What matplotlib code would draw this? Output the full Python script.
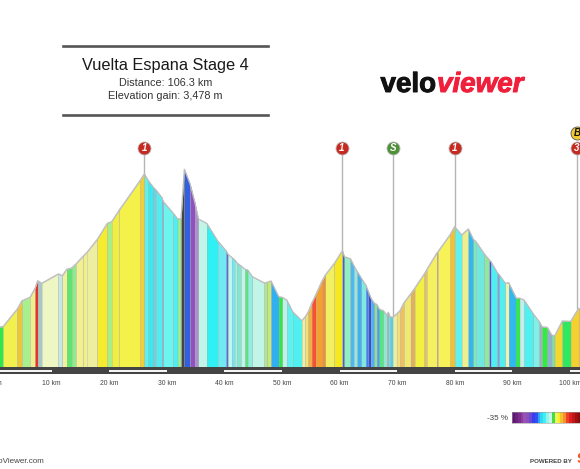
"""
Vuelta Espana Stage 4 elevation profile.
"""
import matplotlib
matplotlib.use("Agg")
import matplotlib.pyplot as plt
import matplotlib.patheffects as pe

plt.rcParams["font.family"] = ["Liberation Sans", "DejaVu Sans"]

W, H = 580, 469

# Profile points: distance (km) and elevation (m)
PROFILE_KM = [
    0, 1.56, 4.05, 4.86, 6.25, 7.12, 7.58, 8.27, 11.17, 11.86,
    12.61, 13.48, 14.23, 15.51, 16.09, 17.94, 19.67, 20.43, 21.76, 25.35,
    26.10, 26.79, 27.66, 28.12, 29.11, 29.40, 31.13, 31.88, 32.46, 33.04,
    34.03, 34.9, 35.48, 36.92, 38.83, 40.28, 40.63, 41.26, 41.78, 42.25,
    42.88, 43.58, 44.04, 44.85, 46.93, 47.46, 48.09, 49.42, 50.06, 50.81,
    51.85, 53.42, 54.05, 54.57, 55.15, 55.85, 56.89, 57.53, 59.09, 60.48,
    60.82, 61.87, 62.50, 63.08, 63.78, 64.53, 65.0, 65.45, 66.03, 66.44,
    66.9, 67.59, 68.17, 68.46, 68.75, 69.21, 69.90, 70.48, 71.18, 72.33,
    73.03, 74.71, 75.17, 76.85, 77.08, 79.16, 79.97, 81.19, 82.35, 83.21,
    83.68, 85.12, 85.99, 86.28, 87.38, 87.73, 88.77, 89.35, 90.68, 91.32,
    92.01, 93.63, 94.67, 95.13, 96.06, 96.81, 97.33, 98.67, 100.11, 101.5,
    103.0,
]
PROFILE_ELEV = [
    320, 325, 467, 533, 560, 632, 693, 672, 747, 733,
    784, 795, 827, 891, 917, 1024, 1152, 1165, 1259, 1493,
    1547, 1493, 1440, 1419, 1360, 1325, 1232, 1187, 1187, 1584,
    1467, 1312, 1187, 1152, 1011, 933, 904, 880, 859, 832,
    811, 784, 779, 725, 675, 680, 691, 565, 560, 539,
    445, 373, 405, 445, 512, 579, 685, 739, 832, 933,
    885, 869, 811, 765, 712, 659, 605, 552, 512, 504,
    464, 453, 419, 440, 405, 400, 427, 453, 517, 587,
    632, 747, 784, 912, 925, 1059, 1125, 1059, 1107, 1024,
    1005, 907, 859, 845, 757, 739, 672, 677, 552, 552,
    539, 427, 365, 325, 320, 259, 251, 371, 368, 472,
    440,
]
# Gradient colour of each stretch between two profile points
SEGMENT_COLORS = [
    "#2ee84a", "#f2f04e", "#f0c43a", "#a8f08e", "#f0f08a", "#e8332a", "#a8c8c8", "#eef6c4", "#c4e8e8", "#f0f29a",
    "#62e26e", "#90e890", "#f2f090", "#eef08c", "#eeeea0", "#f5ec30", "#a8ee88", "#f0ee40", "#f4f24a", "#f4ce30",
    "#5ef0f0", "#35ebf2", "#80c8d8", "#50eef0", "#80b8d8", "#6cf4ee", "#50eef0", "#9cef90", "#454545", "#3060e0",
    "#9050c0", "#a890c8", "#c0f5e8", "#30f0f4", "#70eaf0", "#5070d8", "#c0f5f0", "#70e8f0", "#a8f0e0", "#80e8d0",
    "#c0f5e8", "#60e080", "#90f0e0", "#c0f5e8", "#b0e890", "#c8e878", "#30b0f0", "#30e840", "#c0f0e8", "#60f0f0",
    "#50f0f0", "#eef0a0", "#f0e080", "#f0b040", "#f85030", "#f4a030", "#f09030", "#f2f060", "#f6e820", "#4060e0",
    "#90eec0", "#50b8f0", "#90e8e0", "#40b0f0", "#80e8e0", "#4080f0", "#3050d8", "#50b0f0", "#90e090", "#40a0f0",
    "#50e880", "#90e8d0", "#b0b0b0", "#70e0e0", "#50d0f0", "#eef0a0", "#f0e080", "#f0c060", "#f0e870", "#e0b060",
    "#f2f040", "#e8c060", "#f4f060", "#c8a080", "#f6f258", "#f4c030", "#60f0f0", "#eef090", "#30b8f0", "#80e8b0",
    "#70e8e0", "#90e8a0", "#4050e0", "#50f0f0", "#80a0e0", "#50f0f0", "#f0f0b0", "#30b8f0", "#30e850", "#c0f0e8",
    "#50f0f0", "#80f0e8", "#a0b0c0", "#30ee40", "#90b0d0", "#80e0a0", "#f4d830", "#30e860", "#f4d030", "#f4c040",
]

# Climbs and sprints above the profile
MARKER_KM = [26.1, 60.4, 69.3, 80.0, 101.2]
MARKER_ELEV = [1547, 933, 400, 1125, 472]
MARKER_LABELS = ["1", "1", "S", "1", "3"]
MARKER_COLORS = ["#c62a20", "#c62a20", "#4f8f38", "#c62a20", "#c62a20"]

BONUS_KM = 101.2
BONUS_LABEL = "B"

TICK_KM = [0, 10, 20, 30, 40, 50, 60, 70, 80, 90, 100]
STRIPE_KM = [0, 20, 40, 60, 80, 100]

# Colour scale of the gradient legend
SCALE_GRADES = [
    -35, -32.5, -30, -27.5, -25, -22.5, -20, -17.5, -15, -12.5, -10, -7.5,
    -5, -2.5, 0, 2.5, 5, 7.5, 10, 12.5, 15, 17.5, 20, 22.5,
]
SCALE_COLORS = [
    "#5c1670", "#6e2080", "#7a2c8c", "#8a3ca0", "#9a50b4", "#8c50bc", "#6a48d0", "#3a3cf0",
    "#3050f0", "#30a0f8", "#30d8f8", "#40f0f0", "#90f4f0", "#c8f4e8", "#40e040", "#f4f060",
    "#f6ee20", "#f4c030", "#f49030", "#f04028", "#e02020", "#c01818", "#a01010", "#8c0c0c",
]


def fx(px):
    return px / W


def fy(py):
    return 1 - py / H


fig = plt.figure(figsize=(W / 100, H / 100), dpi=100, facecolor="white")

# Profile axes, the whole figure width down to the road band
ax = fig.add_axes([0, fy(367.3), 1, 367.3 / H])
ax.set_xlim(1.04, 101.74)
ax.set_ylim(0, 2938)
ax.axis("off")

for i, color in enumerate(SEGMENT_COLORS):
    ax.fill_between(PROFILE_KM[i:i + 2], PROFILE_ELEV[i:i + 2], 0, facecolor=color,
                    edgecolor="#a0a0a0", linewidth=0.2, zorder=2)
ax.plot(PROFILE_KM, PROFILE_ELEV, color="#bdbdbd", linewidth=0.9, zorder=3)

marker_y = (367.3 - 148) * 8
bonus_y = (367.3 - 133) * 8
for km, elev, label, color in zip(MARKER_KM, MARKER_ELEV, MARKER_LABELS, MARKER_COLORS):
    ax.plot([km, km], [elev, marker_y], color="#b4b4b4", linewidth=1.0, zorder=1)
    ax.scatter([km], [marker_y], s=88, color=color, edgecolors="#bbbbbb", linewidths=0.6, zorder=5)
    ax.text(km, marker_y, label, color="white", fontsize=7, fontweight="bold", fontstyle="italic",
            ha="center", va="center", zorder=6)
ax.scatter([BONUS_KM], [bonus_y], s=88, color="#f0c830", edgecolors="#555555", linewidths=0.6,
           zorder=4, clip_on=False)
ax.text(BONUS_KM, bonus_y, BONUS_LABEL, color="#111111", fontsize=7, fontweight="bold",
        fontstyle="italic", ha="center", va="center", zorder=6)

# Road band with alternate white stripes, and distance labels
band = fig.add_axes([0, fy(374), 1, 6.7 / H], sharex=ax)
band.set_ylim(0, 1)
band.axis("off")
band.axvspan(-10, 120, color="#444444", linewidth=0)
for km in STRIPE_KM:
    band.barh(0.5, 10, left=km, height=0.26, color="#f4f4f4", linewidth=0)
for km in TICK_KM:
    band.annotate(f"{km} km", (km, 0), xycoords=("data", "axes fraction"), xytext=(0, -6.5),
                  textcoords="offset points", ha="center", va="center", fontsize=4.9,
                  color="#444444", annotation_clip=False)

# Title block
fig.add_artist(plt.Line2D([fx(63), fx(268)], [fy(46), fy(46)], color="#555555", linewidth=1.9))
fig.add_artist(plt.Line2D([fx(63), fx(268)], [fy(115), fy(115)], color="#555555", linewidth=1.9))
fig.text(fx(165.5), fy(65), "Vuelta Espana Stage 4", fontsize=11.8, color="#1a1a1a", ha="center", va="center")
fig.text(fx(165.5), fy(83), "Distance: 106.3 km", fontsize=7.8, color="#333333", ha="center", va="center")
fig.text(fx(165.5), fy(96), "Elevation gain: 3,478 m", fontsize=7.8, color="#333333", ha="center", va="center")

# Logo
fig.text(fx(436), fy(92), "velo", fontsize=20, fontweight="bold", color="#111111", ha="right", va="baseline",
         path_effects=[pe.withStroke(linewidth=0.7, foreground="#111111")])
fig.text(fx(437), fy(92), "viewer", fontsize=20, fontweight="bold", fontstyle="italic", color="#f0203c",
         ha="left", va="baseline", path_effects=[pe.withStroke(linewidth=0.7, foreground="#f0203c")])

# Gradient legend
scale = fig.add_axes([fx(512), fy(423), 68 / W, 11 / H])
scale.bar(SCALE_GRADES, 1, width=2.5, color=SCALE_COLORS, linewidth=0)
scale.set_xlim(-36.25, 23.4)
scale.set_ylim(0, 1)
scale.set_xticks([])
scale.set_yticks([])
for spine in scale.spines.values():
    spine.set_color("#999999")
    spine.set_linewidth(0.4)
fig.text(fx(508), fy(418), "-35 %", fontsize=5.8, color="#444444", ha="right", va="center")

# Footer
fig.text(fx(45), fy(461), "VeloViewer.com", fontsize=5.8, color="#444444", ha="right", va="center")
fig.text(fx(572), fy(461), "POWERED BY", fontsize=4.4, fontweight="bold", color="#444444", ha="right", va="center")
fig.text(fx(577), fy(459), "STRAVA", fontsize=10, fontweight="bold", color="#f2551e", ha="left", va="center")

fig.savefig("out.png", dpi=100)
plt.close(fig)
